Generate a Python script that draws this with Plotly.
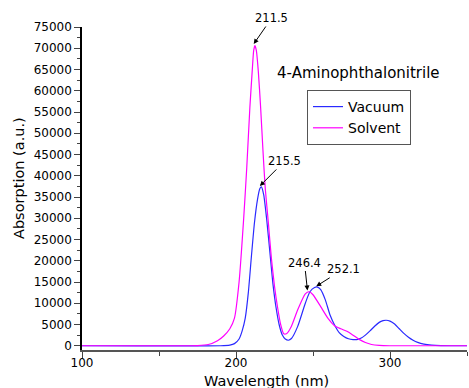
import plotly.graph_objects as go

# Solvent (magenta) spectrum
solvent_wl = [100, 150, 175, 182, 188, 192, 196, 199, 202, 205, 207, 209, 210.5, 211.5, 212.3,
              213.2, 214.5, 216, 217.5, 219, 221, 223, 225, 227, 229, 231, 233, 236, 240, 245,
              247.5, 250, 255, 260, 264, 268, 272, 276, 280, 284, 288, 293, 300, 350]
solvent_abs = [0, 0, 50, 300, 1200, 2300, 4000, 6500, 15000, 30000, 42000, 56000, 64500, 69500, 70600,
               69500, 64500, 56000, 46000, 37000, 29000, 20500, 14000, 9000, 5000, 2800, 2900, 4600, 8400, 12200,
               12700, 12000, 9200, 6300, 4700, 4000, 3400, 2500, 1500, 750, 300, 80, 0, 0]

# Vacuum (blue) spectrum
vacuum_wl = [100, 190, 196, 199, 202, 204, 206, 208, 210, 212, 214, 215.5, 216.5, 218, 220, 222, 224,
             226, 228, 230, 232, 234, 236, 240, 245, 248, 251, 253, 255, 258, 261, 264, 267, 270, 273,
             276, 278.5, 281, 284, 287, 290, 293, 295.5, 297.5, 300, 303, 306, 309, 312, 315, 318, 322,
             327, 333, 340, 350]
vacuum_abs = [0, 0, 150, 500, 1600, 3500, 6500, 12500, 21000, 29000, 34500, 37000, 37400, 35500, 29500,
              22000, 14500, 9000, 5000, 2600, 1600, 1300, 1700, 4500, 10000, 12700, 13700, 13800, 13200,
              10800, 7300, 4900, 3100, 2200, 1650, 1450, 1450, 1750, 2500, 3500, 4600, 5500, 5900, 6000,
              5800, 5100, 4000, 2900, 2000, 1300, 800, 400, 150, 30, 0, 0]

peak_labels = ["211.5", "215.5", "246.4", "252.1"]
peak_x = [211.5, 215.5, 246.4, 252.1]
peak_y = [71000, 37600, 13000, 14000]
label_ax = [18, 25, -3, 27]
label_ay = [-26, -25, -28, -17]

FONT = "DejaVu Sans, Verdana, sans-serif"

fig = go.Figure()
fig.add_trace(go.Scatter(x=vacuum_wl, y=vacuum_abs, mode="lines", name="Vacuum",
                         line=dict(color="#2a2aff", width=1.2, shape="spline", smoothing=0.6)))
fig.add_trace(go.Scatter(x=solvent_wl, y=solvent_abs, mode="lines", name="Solvent",
                         line=dict(color="#ff00ff", width=1.2, shape="spline", smoothing=0.6)))

for lab, x, y, ax, ay in zip(peak_labels, peak_x, peak_y, label_ax, label_ay):
    fig.add_annotation(x=x, y=y, text=lab, showarrow=True, ax=ax, ay=ay,
                       arrowhead=2, arrowsize=1, arrowwidth=1, arrowcolor="black",
                       font=dict(family=FONT, size=11.5, color="black"))

fig.add_annotation(x=(358.5 - 82) / 385, y=(350 - 73) / 323, xref="paper", yref="paper",
                   text="4-Aminophthalonitrile", xanchor="center", yanchor="middle",
                   showarrow=False, font=dict(family=FONT, size=15, color="black"))

# axis titles
fig.add_annotation(x=(266 - 82) / 385, y=-30.5 / 323, xref="paper", yref="paper",
                   xanchor="center", yanchor="middle",
                   text="Wavelength (nm)", showarrow=False,
                   font=dict(family=FONT, size=14.5, color="black"))
fig.add_annotation(x=(19 - 82) / 385, y=(350 - 178) / 323, xref="paper", yref="paper",
                   xanchor="center", yanchor="middle",
                   text="Absorption (a.u.)", showarrow=False, textangle=-90,
                   font=dict(family=FONT, size=14.5, color="black"))

fig.update_layout(
    width=469, height=388,
    margin=dict(l=82, r=2, t=27, b=38),
    paper_bgcolor="white", plot_bgcolor="white",
    font=dict(family=FONT, size=12, color="black"),
    showlegend=True,
    legend=dict(x=(307 - 82) / 385, y=(350 - 90) / 323, xanchor="left", yanchor="top",
                bordercolor="#555", borderwidth=1, bgcolor="white",
                font=dict(family=FONT, size=14), tracegroupgap=0),
    xaxis=dict(range=[100, 350], tickvals=[100, 200, 300], ticks="outside", ticklen=6,
               tickwidth=1.2, showline=True, linecolor="#555", linewidth=2, showgrid=False,
               zeroline=False, tickfont=dict(size=12), automargin=False, ticklabelstandoff=-5,
               minor=dict(tickvals=[150, 250, 350], ticks="outside", ticklen=4, tickwidth=1.2)),
    yaxis=dict(range=[-1000, 75000], dtick=5000, tick0=0, ticks="outside", ticklen=6,
               tickwidth=1.2, showline=True, linecolor="black", linewidth=1.5, showgrid=False,
               zeroline=False, tickfont=dict(size=12), tickformat="d", automargin=False,
               minor=dict(dtick=2500, ticks="outside", ticklen=3, tickwidth=1)),
)

fig.write_html("out.html", config={"displayModeBar": False},
               post_script="document.body.style.margin='0px';")
